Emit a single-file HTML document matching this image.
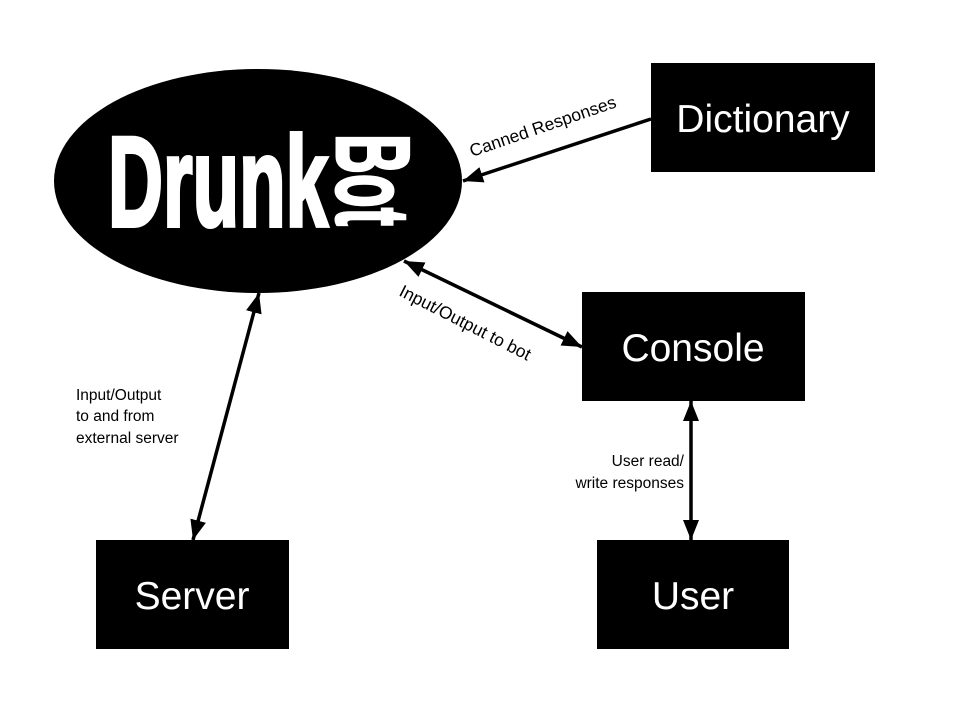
<!DOCTYPE html>
<html><head><meta charset="utf-8"><style>
html,body{margin:0;padding:0;background:#fff;}
svg{display:block;font-family:"Liberation Sans",sans-serif;}
</style></head><body>
<svg width="960" height="720" viewBox="0 0 960 720">
<defs>
<marker id="ah" markerWidth="20" markerHeight="16" refX="20" refY="8" orient="auto-start-reverse" markerUnits="userSpaceOnUse" viewBox="0 0 20 16">
<path d="M0,0 L20,8 L0,16 z" fill="#000"/>
</marker>
</defs>
<rect width="960" height="720" fill="#fff"/>
<g>
<ellipse cx="258" cy="181" rx="204" ry="112" fill="#000"/>
<text x="108" y="226" font-size="128" font-weight="bold" fill="#fff" stroke="#fff" stroke-width="4" textLength="220" lengthAdjust="spacingAndGlyphs">Drunk</text>
<text font-size="104" font-weight="bold" fill="#fff" stroke="#fff" stroke-width="3" transform="translate(337 134) rotate(90)" textLength="92" lengthAdjust="spacingAndGlyphs" y="0">Bot</text>
</g>
<g stroke="#000" stroke-width="3.5" fill="none">
<line x1="651" y1="119" x2="463" y2="181" marker-end="url(#ah)"/>
<line x1="404" y1="261" x2="582" y2="347" marker-start="url(#ah)" marker-end="url(#ah)"/>
<line x1="259" y1="293" x2="193" y2="540" marker-start="url(#ah)" marker-end="url(#ah)"/>
<line x1="691" y1="401" x2="691" y2="540" marker-start="url(#ah)" marker-end="url(#ah)"/>
</g>
<g><rect x="651" y="63" width="224" height="109" fill="#000"/><text x="763" y="132" font-size="39" fill="#fff" text-anchor="middle">Dictionary</text></g>
<g><rect x="582" y="292" width="223" height="109" fill="#000"/><text x="693" y="361" font-size="39" fill="#fff" text-anchor="middle">Console</text></g>
<g><rect x="96" y="540" width="193" height="109" fill="#000"/><text x="192" y="609" font-size="39" fill="#fff" text-anchor="middle">Server</text></g>
<g><rect x="597" y="540" width="192" height="109" fill="#000"/><text x="693" y="609" font-size="39" fill="#fff" text-anchor="middle">User</text></g>
<g font-size="15.5" fill="#000">
<text font-size="17.5" transform="translate(472 157) rotate(-19)">Canned Responses</text>
<text font-size="17.5" transform="translate(398 295) rotate(27)">Input/Output to bot</text>
<g>
<text x="76" y="400">Input/Output</text>
<text x="76" y="421">to and from</text>
<text x="76" y="443">external server</text>
</g>
<g text-anchor="end">
<text x="684" y="466">User read/</text>
<text x="684" y="488">write responses</text>
</g>
</g>
</svg>
</body></html>
